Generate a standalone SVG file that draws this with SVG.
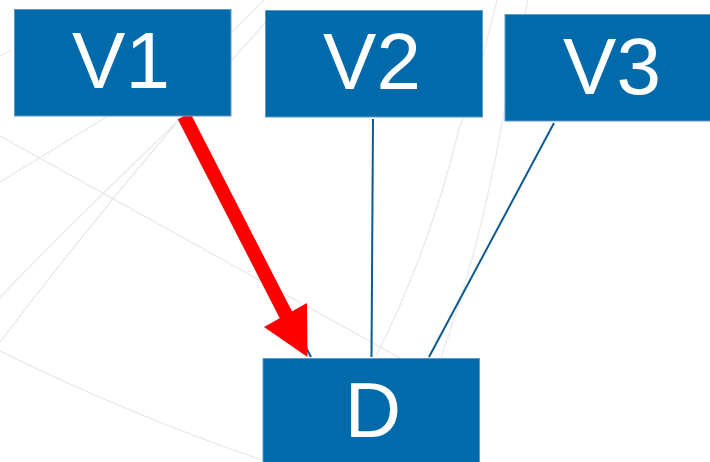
<svg xmlns="http://www.w3.org/2000/svg" width="710" height="462" viewBox="0 0 710 462">
<style>
.bg{fill:none;stroke:#e8e8e8;stroke-width:1.2}
.box{fill:#006aab;stroke:#5d9acb;stroke-width:1}
.lbl{fill:#ffffff;font-family:"Liberation Sans",Arial,sans-serif;font-size:80px;text-anchor:middle}
.edge{stroke:#0d5a8e;stroke-width:2;fill:none}
</style>
<rect width="710" height="462" fill="#ffffff"/>
<g id="background">
<path class="bg" d="M0,136 Q150,220 400,358"/>
<path class="bg" d="M0,182 L108,116"/>
<path class="bg" d="M0,297 Q90,205 178,121"/>
<path class="bg" d="M0,342 Q85,230 178,121"/>
<path class="bg" d="M0,351 Q130,415 262,460"/>
<path class="bg" d="M497,0 Q470,110 460,125 Q430,250 376,356"/>
<path class="bg" d="M528,0 Q510,80 503,118 Q480,250 441,357"/>
<path class="bg" d="M232,32 L264,0"/>
<path class="bg" d="M232,60 L266,22"/>
<path class="bg" d="M0,56 L12,50"/>
</g>
<g id="connectors">
<line class="edge" x1="186" y1="117" x2="311" y2="357"/>
<line class="edge" x1="373" y1="119" x2="371.5" y2="357"/>
<line class="edge" x1="554" y1="123" x2="429" y2="357"/>
<g id="arrow-V1-D" fill="#ff0000">
<line x1="184" y1="116" x2="287" y2="317" stroke="#ff0000" stroke-width="14"/>
<polygon points="264,327 307,303 307.5,357"/>
</g>
</g>
<g id="node-V1">
<rect class="box" x="14.5" y="9.5" width="216.5" height="106.5"/>
<text class="lbl" x="121" y="88">V1</text>
</g>
<g id="node-V2">
<rect class="box" x="265.5" y="10.5" width="217" height="106.5"/>
<text class="lbl" x="372" y="89">V2</text>
</g>
<g id="node-V3">
<rect class="box" x="505" y="14.5" width="210" height="106.5"/>
<text class="lbl" x="612" y="94">V3</text>
</g>
<g id="node-D">
<rect class="box" x="263" y="358.5" width="216.5" height="110"/>
<text class="lbl" x="373" y="437" style="font-size:78px">D</text>
</g>
</svg>
